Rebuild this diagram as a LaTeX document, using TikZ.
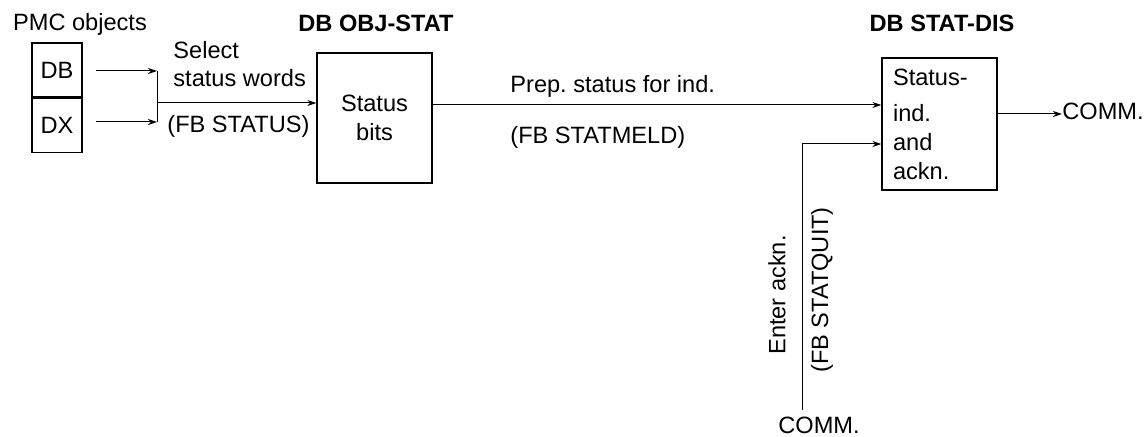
\documentclass[tikz,border=0pt]{standalone}
\usepackage{fontspec}
\setmainfont{Liberation Sans}
\frenchspacing
\usetikzlibrary{arrows.meta,positioning}

\begin{document}
\begin{tikzpicture}[x=0.5pt,y=-0.5pt,
  txt/.style={inner sep=0pt,font=\fontsize{11.8}{14.5}\selectfont},
  title/.style={txt,font=\fontsize{11.8}{14.5}\selectfont\bfseries},
  cell/.style={draw,line width=0.7pt,minimum width=25pt,minimum height=27pt,txt},
  box/.style={draw,line width=0.7pt,txt},
  flow/.style={line width=0.5pt,-{Stealth[length=4.5pt,width=3pt]}}]
\useasboundingbox (0,0) rectangle (1146,437);
% titles
\node[txt] (pmc) at (80,24) {PMC objects};
\node[title] (objstat) at (376,23) {DB OBJ-STAT};
\node[title] (statdis) at (942,23) {DB STAT-DIS};
% objects
\node[cell] (db) at (57,70) {DB};
\node[cell,below=0pt of db] (dx) {DX};
% blocks
\node[box,minimum width=57.5pt,minimum height=65pt,align=center] (bits) at (374.5,118) {Status\\bits};
\node[box,minimum height=66pt,text width=46.5pt,inner xsep=5.5pt,align=left] (ind) at (939.5,124)
  {Status-\\[3.5pt]ind.\\and\\ackn.};
% junction
\coordinate (jt) at (157,71);
\coordinate (jb) at (157,122);
\coordinate (jn) at (157,103);
\draw[flow] ([xshift=6.5pt]db.east |- jt) -- (jt);
\draw[flow] ([xshift=6.5pt]dx.east |- jb) -- (jb);
\draw[line width=0.5pt] (jt) -- (jb);
\draw[flow] (jn) -- (jn -| bits.west);
\node[txt,anchor=west] (sel) at (173,50) {Select};
\node[txt,anchor=west] (words) at (173,78) {status words};
\node[txt,anchor=west] (fbstat) at (167,126) {(FB STATUS)};
% to display
\draw[flow] ([yshift=6.5pt]bits.east) -- ([yshift=6.5pt]bits.east -| ind.west);
\node[txt,anchor=west] (prep) at (510,86) {Prep. status for ind.};
\node[txt,anchor=west] (fbmeld) at (510,137) {(FB STATMELD)};
% acknowledge
\node[txt] (commin) at (819,425) {COMM.};
\coordinate (ackn) at (802,410);
\draw[flow] (ackn) |- ([yshift=-10pt]ind.west);
\node[txt,rotate=90] (enter) at (777,295) {Enter ackn.};
\node[txt,rotate=90] (fbquit) at (822,290) {(FB STATQUIT)};
% output
\node[txt,anchor=west] (commout) at (1062,111) {COMM.};
\draw[flow] ([yshift=5pt]ind.east) -- ([yshift=5pt]ind.east -| commout.west);
\end{tikzpicture}
\end{document}
